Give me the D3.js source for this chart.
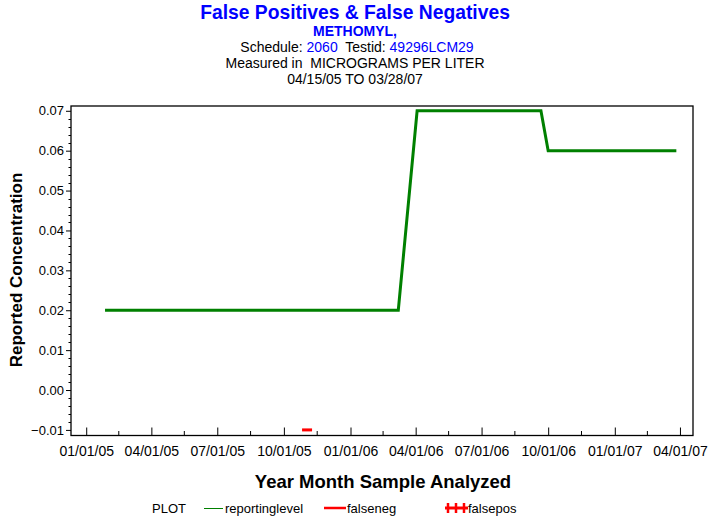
<!DOCTYPE html>
<html><head><meta charset="utf-8">
<script src="https://cdn.jsdelivr.net/npm/d3@7"></script>
<style>
body{margin:0;background:#fff;}
text{font-family:Arial,"Liberation Sans",sans-serif;}
</style></head>
<body><svg id="c" width="713" height="523"></svg>
<script>
// ---- data ----
const reportDates = ["2005-01-27","2006-03-08","2006-04-03","2006-09-21","2006-10-01","2007-03-27"];
const reportValues = [0.02,0.02,0.07,0.07,0.06,0.06];
const falseNegDates = ["2005-11-02"];
const falseNegValues = [-0.01];
const yTickValues = [-0.01,0.00,0.01,0.02,0.03,0.04,0.05,0.06,0.07];
const xTickDates = ["2005-01-01","2005-04-01","2005-07-01","2005-10-01","2006-01-01","2006-04-01","2006-07-01","2006-10-01","2007-01-01","2007-04-01"];
const legendLabels = ["reportinglevel","falseneg","falsepos"];

const parse = d3.timeParse("%Y-%m-%d");
const fmt = d3.timeFormat("%m/%d/%y");
const svg = d3.select("#c");

const L=71, R=693, T=106, B=435.5;
const x = d3.scaleTime().domain([parse("2004-12-11"), parse("2007-04-19")]).range([L,R]);
const y = d3.scaleLinear().domain([-0.0114, 0.0712]).range([B,T]);

// titles
const title = svg.append("g");
title.append("text").attr("x",355).attr("y",18.5).attr("text-anchor","middle")
  .attr("font-size",19.3).attr("font-weight","bold").attr("fill","#0000ff").text("False Positives & False Negatives");
title.append("text").attr("x",355).attr("y",36).attr("text-anchor","middle")
  .attr("font-size",14).attr("font-weight","bold").attr("fill","#0000ff").text("METHOMYL,");
const s = title.append("text").attr("x",357).attr("y",52).attr("text-anchor","middle").attr("font-size",14).attr("fill","#000")
  .attr("xml:space","preserve");
s.append("tspan").text("Schedule: ");
s.append("tspan").attr("fill","#0000ff").text("2060");
s.append("tspan").text("  Testid: ");
s.append("tspan").attr("fill","#0000ff").text("49296LCM29");
title.append("text").attr("x",355).attr("y",68).attr("text-anchor","middle").attr("font-size",14).attr("fill","#000")
  .attr("xml:space","preserve").text("Measured in  MICROGRAMS PER LITER");
title.append("text").attr("x",355).attr("y",84).attr("text-anchor","middle").attr("font-size",14).attr("fill","#000")
  .text("04/15/05 TO 03/28/07");

// frame
svg.append("rect").attr("x",L).attr("y",T).attr("width",R-L).attr("height",B-T)
  .attr("fill","none").attr("stroke","#000").attr("stroke-width",1.3);

// y axis
const yAxis = d3.axisLeft(y).tickValues(yTickValues).tickFormat(d3.format(".2f")).tickSize(5).tickPadding(2);
const gy = svg.append("g").attr("transform",`translate(${L},0)`).call(yAxis);
gy.select(".domain").remove();
gy.selectAll("text").attr("font-size",13).attr("font-family","Arial, 'Liberation Sans', sans-serif").attr("fill","#000");
// minor y ticks
const yMinor = d3.range(-0.01, 0.0701, 0.002).filter(v => Math.abs(Math.round(v*100)-v*100) > 1e-6);
svg.append("g").selectAll("line").data(yMinor).join("line")
  .attr("x1",L-2.5).attr("x2",L).attr("y1",d=>Math.round(y(d))+0.5).attr("y2",d=>Math.round(y(d))+0.5)
  .attr("stroke","#000");

// x axis (ticks pointing inside)
const xt = xTickDates.map(parse);
const xAxis = d3.axisBottom(x).tickValues(xt).tickFormat(fmt).tickSize(-8);
const gx = svg.append("g").attr("transform",`translate(0,${B})`).call(xAxis);
gx.select(".domain").remove();
gx.selectAll("text").attr("font-size",14).attr("y",20).attr("dy",0)
  .attr("font-family","Arial, 'Liberation Sans', sans-serif").attr("fill","#000");
// minor x ticks midway
const xMinor = xt.slice(0,-1).map((d,i)=> (x(d)+x(xt[i+1]))/2);
svg.append("g").selectAll("line").data(xMinor).join("line")
  .attr("x1",d=>d).attr("x2",d=>d).attr("y1",B).attr("y2",B-4.5).attr("stroke","#000");

// axis labels
svg.append("text").attr("transform","translate(22,270) rotate(-90)").attr("text-anchor","middle")
  .attr("font-size",17).attr("font-weight","bold").text("Reported Concentration");
svg.append("text").attr("x",383).attr("y",488).attr("text-anchor","middle")
  .attr("font-size",18.5).attr("font-weight","bold").text("Year Month Sample Analyzed");

// reporting level line
const rep = reportDates.map((d,i)=>({x:parse(d), y:reportValues[i]}));
svg.append("path").datum(rep)
  .attr("d", d3.line().x(d=>x(d.x)).y(d=>y(d.y)))
  .attr("fill","none").attr("stroke","#008000").attr("stroke-width",3);

// false negatives
const fn = falseNegDates.map((d,i)=>({x:parse(d), y:falseNegValues[i]}));
svg.append("g").selectAll("line").data(fn).join("line")
  .attr("x1",d=>x(d.x)-5).attr("x2",d=>x(d.x)+5).attr("y1",d=>y(d.y)).attr("y2",d=>y(d.y))
  .attr("stroke","#ff0000").attr("stroke-width",3);

// legend
const lg = svg.append("g").attr("font-size",13);
lg.append("text").attr("x",152).attr("y",513).text("PLOT");
lg.append("line").attr("x1",204).attr("x2",223).attr("y1",508.5).attr("y2",508.5).attr("stroke","#008000").attr("stroke-width",1);
lg.append("text").attr("x",225).attr("y",513).text(legendLabels[0]);
lg.append("line").attr("x1",324).attr("x2",346).attr("y1",508).attr("y2",508).attr("stroke","#ff0000").attr("stroke-width",2.5);
lg.append("text").attr("x",347).attr("y",513).text(legendLabels[1]);
lg.append("line").attr("x1",445).attr("x2",468).attr("y1",508).attr("y2",508).attr("stroke","#ff0000").attr("stroke-width",3);
[448,456,464].forEach(px=>{
  lg.append("line").attr("x1",px).attr("x2",px).attr("y1",503).attr("y2",513).attr("stroke","#ff0000").attr("stroke-width",2.5);
});
lg.append("text").attr("x",468).attr("y",513).text(legendLabels[2]);
</script></body></html>
